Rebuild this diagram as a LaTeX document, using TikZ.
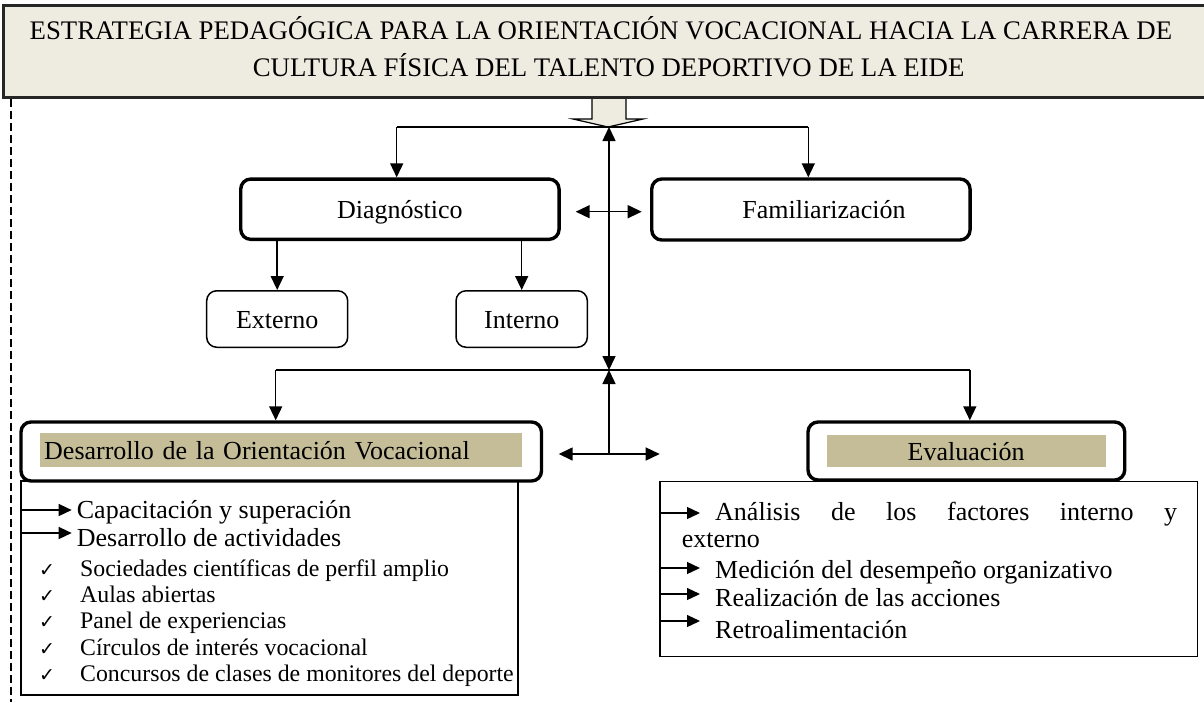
\documentclass[tikz,border=0pt]{standalone}
\usepackage{fontspec}
\setmainfont{Liberation Serif}
\newfontfamily\dejavu{DejaVu Sans}
\usetikzlibrary{arrows.meta}
\definecolor{titlefill}{HTML}{EEECE1}
\definecolor{tanfill}{HTML}{C4BD97}
\begin{document}
\begin{tikzpicture}[x=1pt,y=-1pt,
  bigbox/.style={draw, line width=3.4pt, rounded corners=10pt, fill=white, inner sep=0pt, text height=18pt, text depth=0pt, font=\fontsize{26}{30}\selectfont},
  smallbox/.style={draw, line width=1.5pt, rounded corners=10pt, fill=white, inner sep=0pt, text height=18pt, text depth=0pt, font=\fontsize{26}{30}\selectfont},
  conn/.style={line width=1.5pt, -{Triangle[length=14pt,width=13pt]}},
  dconn/.style={line width=1.5pt, {Triangle[length=14pt,width=13pt]}-{Triangle[length=14pt,width=13pt]}},
  plainline/.style={line width=1.5pt},
  lst/.style={line width=1.3pt, -{Triangle[length=13pt,width=12pt]}},
  item/.style={anchor=base west, inner sep=0pt, font=\fontsize{26}{30}\selectfont},
  chk/.style={anchor=base west, inner sep=0pt, font=\fontsize{23.8}{27}\selectfont},
  chkmark/.style={anchor=base west, inner sep=0pt, font=\dejavu\fontsize{19}{21}\selectfont},
  titletext/.style={anchor=base, inner sep=0pt, font=\fontsize{26.8}{30}\selectfont},
  tanlabel/.style={fill=tanfill, inner sep=0pt, text height=18pt, text depth=0pt, font=\fontsize{26}{30}\selectfont}
]
\useasboundingbox (0,0) rectangle (1204,702);

% dashed line at left
\coordinate (dtop) at (11,99);
\coordinate (dbot) at (11,702);
\draw[line width=1.4pt, dash pattern=on 8pt off 4pt] (dtop) -- (dbot);

% block arrow under title
\draw[fill=titlefill, line width=1.2pt] (592,94) -- (592,119) -- (573,119) -- (608,127) -- (643,119) -- (626,119) -- (626,94);

% title
\node[draw=black!85, line width=3pt, fill=titlefill, minimum width=1210pt, minimum height=92pt, inner sep=0pt] (title) at (608,51) {};
\node[titletext] (t1) at (601,39.3) {ESTRATEGIA PEDAGÓGICA PARA LA ORIENTACIÓN VOCACIONAL HACIA LA CARRERA DE};
\node[titletext] (t2) at (608.6,76) {CULTURA FÍSICA DEL TALENTO DEPORTIVO DE LA EIDE};

% upper nodes
\node[bigbox, minimum width=318.3pt, minimum height=60.3pt] (diag) at (399.9,209.2) {Diagnóstico};
\node[bigbox, minimum width=318.3pt, minimum height=61pt] (fam) at (810.9,209.5) {\hspace*{26pt}Familiarización};
\node[smallbox, minimum width=141pt, minimum height=56.5pt] (ext) at (277.2,319) {Externo};
\node[smallbox, minimum width=131.3pt, minimum height=56.5pt] (int) at (521.7,319) {Interno};

% list boxes
\node[draw, line width=1.6pt, minimum width=497pt, minimum height=214pt, inner sep=0pt] (lbox) at (269.5,588) {};
\node[draw, line width=1.5pt, minimum width=537.6pt, minimum height=175.2pt, inner sep=0pt] (rbox) at (928.8,569.1) {};

% lower nodes
\node[bigbox, minimum width=520.5pt, minimum height=59pt] (des) at (281.25,451.5) {};
\node[tanlabel, minimum width=482.4pt, minimum height=34pt, text width=474pt, align=left] (deslabel) at (281.2,450) {Desarrollo de la Orientación Vocacional};
\node[bigbox, minimum width=316.7pt, minimum height=58pt] (eva) at (966.35,451) {};
\node[tanlabel, minimum width=279.3pt, minimum height=32pt] (evalabel) at (966.15,451) {Evaluación};

% connectors
\coordinate (h1) at (609,127);
\coordinate (h2) at (609,370);
\coordinate (h3) at (609,454);
\coordinate (ul) at (396.7,127);
\coordinate (ur) at (808.3,127);
\coordinate (dl) at (275.7,370);
\coordinate (dr) at (969.8,370);
\coordinate (m1) at (575.7,211.7);
\coordinate (m2) at (641.7,211.7);
\coordinate (n1) at (558.7,454);
\coordinate (n2) at (659.7,454);

\draw[plainline] (ul) -- (ur);
\draw[conn] (ul) -- (ul |- diag.north);
\draw[conn] (ur) -- (ur |- fam.north);
\draw[dconn] (h1) -- (h2);
\draw[conn] (h3) -- (h2);
\draw[plainline] (dl) -- (dr);
\draw[conn] (dl) -- (dl |- des.north);
\draw[conn] (dr) -- (dr |- eva.north);
\draw[dconn] (m1) -- (m2);
\draw[dconn] (n1) -- (n2);
\draw[conn] (ext.north |- diag.south) -- (ext.north);
\draw[conn] (int.north |- diag.south) -- (int.north);

% left list
\coordinate (la1) at (71.7,510);
\coordinate (la2) at (71.7,533);
\draw[lst] (lbox.west |- la1) -- (la1);
\draw[lst] (lbox.west |- la2) -- (la2);
\node[item] (i1) at (76.7,518) {Capacitación y superación};
\node[item] (i2) at (76.7,546.5) {Desarrollo de actividades};
\node[chkmark] (k1) at (39,576.7) {✓};
\node[chk] (s1) at (80,576.7) {Sociedades científicas de perfil amplio};
\node[chkmark] (k2) at (39,602.7) {✓};
\node[chk] (s2) at (80,602.7) {Aulas abiertas};
\node[chkmark] (k3) at (39,628.2) {✓};
\node[chk] (s3) at (80,628.2) {Panel de experiencias};
\node[chkmark] (k4) at (39,655.5) {✓};
\node[chk] (s4) at (80,655.5) {Círculos de interés vocacional};
\node[chkmark] (k5) at (39,681.5) {✓};
\node[chk] (s5) at (80,681.5) {Concursos de clases de monitores del deporte};

% right list
\coordinate (ra1) at (700,513);
\coordinate (ra2) at (700,568);
\coordinate (ra3) at (700,594);
\coordinate (ra4) at (700,621);
\draw[lst] (rbox.west |- ra1) -- (ra1);
\draw[lst] (rbox.west |- ra2) -- (ra2);
\draw[lst] (rbox.west |- ra3) -- (ra3);
\draw[lst] (rbox.west |- ra4) -- (ra4);
\node[item] (r1) at (715,520) {\makebox[462pt][s]{Análisis de los factores interno y}};
\node[item] (r1b) at (681.7,547) {externo};
\node[item] (r2) at (715,578) {Medición del desempeño organizativo};
\node[item] (r3) at (715,606.5) {Realización de las acciones};
\node[item] (r4) at (715,638) {Retroalimentación};
\end{tikzpicture}
\end{document}
